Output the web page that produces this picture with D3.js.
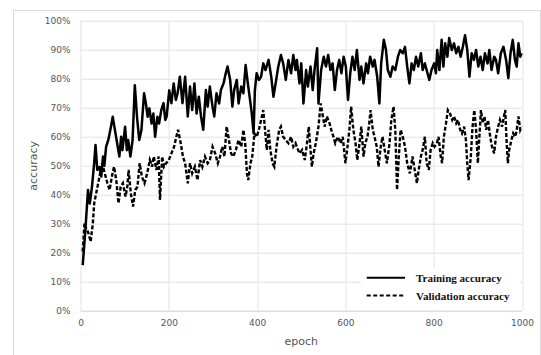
<!DOCTYPE html>
<html>
<head>
<meta charset="utf-8">
<script src="https://cdn.jsdelivr.net/npm/d3@7"></script>
<style>
  body { margin: 0; background: #fff; }
  svg { display: block; }
  .tick text { font-family: "DejaVu Sans", sans-serif; font-size: 9px; fill: #555; }
</style>
</head>
<body>
<figure id="acc-chart" style="margin:0"></figure>
<script>
// epochs and accuracies (%)
const trainEpochs = [5, 10, 14, 17, 21, 26, 31, 34, 38, 43, 47, 51, 54, 58, 63, 69, 73, 78, 83, 88, 92, 95, 101, 105, 108, 113, 118, 123, 128, 133, 138, 144, 148, 152, 156, 161, 165, 169, 174, 178, 183, 188, 192, 195, 201, 206, 211, 216, 220, 225, 231, 237, 243, 248, 253, 258, 263, 268, 273, 278, 284, 288, 293, 299, 303, 308, 314, 318, 324, 329, 333, 339, 344, 348, 354, 358, 364, 369, 374, 379, 384, 388, 392, 395, 399, 404, 409, 414, 419, 426, 432, 437, 442, 448, 454, 459, 465, 471, 477, 482, 487, 490, 496, 500, 505, 511, 515, 521, 526, 530, 536, 539, 545, 551, 556, 561, 566, 571, 576, 581, 586, 591, 596, 601, 606, 611, 616, 621, 626, 632, 636, 641, 647, 651, 656, 662, 666, 672, 677, 681, 687, 692, 696, 702, 707, 713, 719, 724, 730, 735, 740, 745, 750, 755, 760, 765, 771, 775, 780, 786, 790, 795, 801, 805, 808, 813, 818, 822, 826, 831, 835, 841, 846, 851, 856, 861, 866, 871, 876, 881, 886, 891, 896, 901, 906, 911, 916, 922, 926, 931, 937, 941, 946, 952, 958, 964, 969, 974, 979, 984, 988, 992, 996, 999];
const trainAcc = [15.8, 25.6, 34.8, 41.7, 37, 42.8, 50.9, 57.2, 48.6, 49.6, 46.3, 53.2, 50, 56.6, 58.9, 63.5, 66.9, 62.3, 57.8, 53.2, 60, 55.4, 63.5, 55.4, 58.9, 53.2, 58.9, 77.8, 66.9, 58.9, 62.3, 75, 71.6, 66.9, 69.8, 64.6, 68, 60, 66.9, 64.6, 69.2, 71.6, 65.8, 66.9, 76, 71.6, 78.4, 72.7, 75, 80.7, 71.6, 80.7, 67, 77.3, 69.2, 78.4, 68, 73.8, 67, 62.4, 76.1, 70.4, 77.3, 70.4, 67, 75, 71.5, 76.1, 78.4, 81.9, 84.2, 79.6, 70.4, 76.1, 79.6, 71.5, 77.3, 75, 84.7, 78.4, 72.7, 68, 61.2, 76.1, 81.9, 79.6, 80.7, 85.3, 83, 86.5, 80.7, 73.8, 78.4, 84.2, 88.2, 85.3, 79.6, 86.5, 81.9, 88.2, 83, 86.5, 78.4, 85.3, 71.5, 83, 77.3, 84.2, 76.1, 83, 90.5, 71.5, 83, 87.6, 84.2, 88.2, 83, 85.3, 76.1, 83, 86.5, 81.9, 87.6, 84.2, 72.7, 81.9, 87.6, 83, 89.9, 79.6, 84.2, 78.4, 85.3, 81.9, 87.6, 84.2, 86.5, 80.7, 71.5, 85.3, 93.4, 89.9, 83, 80.7, 84.2, 83, 87.6, 89.9, 88.8, 91, 84.2, 78.4, 85.3, 83, 87.6, 84.2, 88.8, 83, 85.3, 81.9, 79.6, 83, 85.3, 81.9, 89.9, 83, 93.4, 84.2, 92.2, 87.6, 94, 89.9, 92.2, 88.8, 91, 87.6, 91, 95, 89.9, 80.7, 88.8, 86.5, 89.9, 84.2, 87.6, 83, 88.8, 85.3, 89.9, 83, 87.6, 86.5, 81.9, 88.8, 91, 86.5, 80.2, 88.8, 93.4, 86.5, 84.2, 92.2, 87.6, 88.8];

const valEpochs = [5, 9, 13, 18, 23, 28, 31, 37, 43, 49, 55, 61, 66, 71, 76, 81, 86, 91, 96, 102, 106, 109, 114, 119, 124, 129, 134, 139, 145, 151, 157, 162, 166, 172, 177, 180, 185, 189, 194, 200, 206, 212, 217, 221, 227, 232, 237, 243, 248, 253, 259, 265, 271, 276, 282, 288, 293, 299, 305, 311, 316, 321, 326, 331, 335, 341, 346, 352, 358, 364, 369, 373, 377, 380, 385, 389, 394, 399, 404, 409, 414, 418, 422, 426, 430, 435, 439, 444, 450, 454, 459, 465, 471, 477, 482, 487, 490, 496, 502, 508, 513, 517, 521, 524, 528, 533, 539, 544, 549, 553, 558, 564, 568, 573, 577, 583, 589, 594, 600, 604, 609, 613, 618, 623, 627, 632, 636, 641, 645, 650, 654, 657, 662, 666, 671, 675, 680, 684, 689, 694, 700, 704, 709, 713, 717, 721, 725, 730, 735, 740, 746, 752, 757, 762, 766, 771, 775, 780, 784, 789, 793, 798, 802, 807, 811, 816, 819, 823, 828, 832, 837, 842, 846, 851, 855, 860, 864, 869, 873, 876, 879, 884, 888, 892, 896, 900, 903, 907, 911, 915, 919, 923, 928, 932, 937, 941, 946, 950, 955, 959, 962, 965, 968, 971, 976, 980, 985, 988, 992, 996, 999];
const valAcc = [20.5, 30.2, 28.5, 26.8, 23.9, 30.2, 37.1, 41.7, 46.3, 50.9, 47.4, 44, 41.7, 46.3, 49.7, 45.1, 37.1, 42.8, 44, 39.4, 42.8, 48.6, 40.5, 36, 41.7, 42.8, 50.9, 46.3, 44, 47.4, 52, 49.7, 53.2, 48.6, 53.2, 38.3, 53.2, 49.7, 50.9, 52, 54.3, 56.6, 60, 62.4, 57.8, 53.2, 50.9, 44, 50.9, 47.4, 49.7, 45.1, 52, 49.7, 53.2, 50.9, 52, 56.6, 54.3, 50.9, 53.2, 56.6, 53.2, 63.5, 60, 54.3, 53.2, 55.5, 58.9, 56.6, 62.4, 57.8, 47.4, 45.1, 50.9, 53.2, 61.2, 60, 62.4, 65.8, 69.2, 62.4, 55.5, 62.4, 55.5, 50.9, 49.7, 56.6, 62.4, 63.5, 60, 58.9, 57.8, 60, 56.6, 57.8, 56.6, 54.3, 55.5, 52, 57.8, 63.5, 55.5, 49.7, 54.3, 57.8, 63.5, 71.5, 67, 63.5, 67, 64.7, 62.4, 60, 57.8, 60, 57.8, 60, 50.9, 55.5, 62.4, 70.4, 62.4, 57.8, 52, 57.8, 63.5, 53.2, 57.8, 60, 64.7, 69.2, 62.4, 60, 56.6, 49.7, 56.6, 60, 55.5, 50.9, 57.8, 65.8, 70.4, 62.4, 41.7, 53.2, 62.4, 60, 56.6, 50.9, 47.4, 53.2, 48.6, 44, 48.6, 53.2, 55.5, 60, 50.9, 48.6, 55.5, 57.8, 56.6, 57.8, 60, 53.2, 50.9, 60, 64.7, 69.2, 68, 65.8, 67, 64.7, 65.8, 62.4, 61.2, 63.5, 58.9, 50.9, 45.1, 53.2, 63.5, 69.2, 62.4, 50.9, 58.9, 69.2, 64.7, 67, 62.4, 65.8, 60, 56.6, 54.3, 60, 63.5, 65.8, 63.5, 67, 69.2, 58.9, 50.9, 55.5, 58.9, 61.2, 60, 62.4, 67, 62.4, 63.5];

const xTicks = [0, 200, 400, 600, 800, 1000];
const yTicks = [0, 10, 20, 30, 40, 50, 60, 70, 80, 90, 100];
const legendLabels = ["Training accuracy", "Validation accuracy"];

const W = 541, H = 355;
const margin = {top: 20.7, right: 19, bottom: 44, left: 80.5};
const width = W - margin.left - margin.right;
const height = H - margin.top - margin.bottom;

const root = d3.select("figure#acc-chart")
  .append("svg")
  .attr("width", W)
  .attr("height", H);

// outer chart frame
root.append("rect")
  .attr("x", 13.5).attr("y", 10.5)
  .attr("width", 527).attr("height", 360)
  .attr("fill", "none")
  .attr("stroke", "#d9d9d9");

const svg = root.append("g")
  .attr("transform", "translate(" + margin.left + "," + margin.top + ")");

const x = d3.scaleLinear().domain([0, 1000]).range([0, width]);
const y = d3.scaleLinear().domain([0, 100]).range([height, 0]);

// gridlines
svg.append("g")
  .selectAll("line.h")
  .data(yTicks)
  .enter()
  .append("line")
  .attr("x1", 0).attr("x2", width)
  .attr("y1", d => Math.round(y(d)) + 0.5)
  .attr("y2", d => Math.round(y(d)) + 0.5)
  .attr("stroke", d => d === 0 ? "#cfcfcf" : "#e3e3e3");

svg.append("g")
  .selectAll("line.v")
  .data(xTicks)
  .enter()
  .append("line")
  .attr("y1", 0).attr("y2", height)
  .attr("x1", d => Math.round(x(d)) + 0.5)
  .attr("x2", d => Math.round(x(d)) + 0.5)
  .attr("stroke", "#e3e3e3");

// axes (labels only)
svg.append("g")
  .attr("transform", "translate(0," + height + ")")
  .call(d3.axisBottom(x).tickValues(xTicks).tickSize(0).tickPadding(9).tickFormat(d3.format("d")))
  .call(g => g.select(".domain").remove());

svg.append("g")
  .call(d3.axisLeft(y).tickValues(yTicks).tickSize(0).tickPadding(10).tickFormat(d => d + "%"))
  .call(g => g.select(".domain").remove());

// axis titles
svg.append("text")
  .attr("text-anchor", "middle")
  .attr("x", width / 2)
  .attr("y", height + 34)
  .style("font-family", "DejaVu Sans, sans-serif")
  .style("font-size", "11px")
  .style("fill", "#555")
  .text("epoch");

svg.append("text")
  .attr("text-anchor", "middle")
  .attr("transform", "rotate(-90)")
  .attr("x", -height / 2)
  .attr("y", -44)
  .style("font-family", "DejaVu Sans, sans-serif")
  .style("font-size", "11px")
  .style("fill", "#555")
  .text("accuracy");

const line = d3.line()
  .x(d => x(d[0]))
  .y(d => y(d[1]));

const valData = d3.zip(valEpochs, valAcc);
const trainData = d3.zip(trainEpochs, trainAcc);

svg.append("path")
  .datum(valData)
  .attr("fill", "none")
  .attr("stroke", "#000")
  .attr("stroke-width", 2.4)
  .attr("stroke-dasharray", "4,2")
  .attr("d", line);

svg.append("path")
  .datum(trainData)
  .attr("fill", "none")
  .attr("stroke", "#000")
  .attr("stroke-width", 2.5)
  .attr("stroke-linejoin", "round")
  .attr("d", line);

// legend
const lg = root.append("g");
lg.append("rect")
  .attr("x", 361).attr("y", 268)
  .attr("width", 159).attr("height", 41)
  .attr("fill", "#fff");

legendLabels.forEach((label, i) => {
  const ly = 277.7 + i * 17.8;
  lg.append("line")
    .attr("x1", 366.7).attr("x2", 405)
    .attr("y1", ly).attr("y2", ly)
    .attr("stroke", "#000")
    .attr("stroke-width", 2)
    .attr("stroke-dasharray", i === 1 ? "4,2.5" : null);
  lg.append("text")
    .attr("x", 416)
    .attr("y", ly + 4)
    .style("font-family", "Liberation Serif, serif")
    .style("font-weight", "bold")
    .style("font-size", "11px")
    .style("fill", "#111")
    .text(label);
});
</script>
</body>
</html>
